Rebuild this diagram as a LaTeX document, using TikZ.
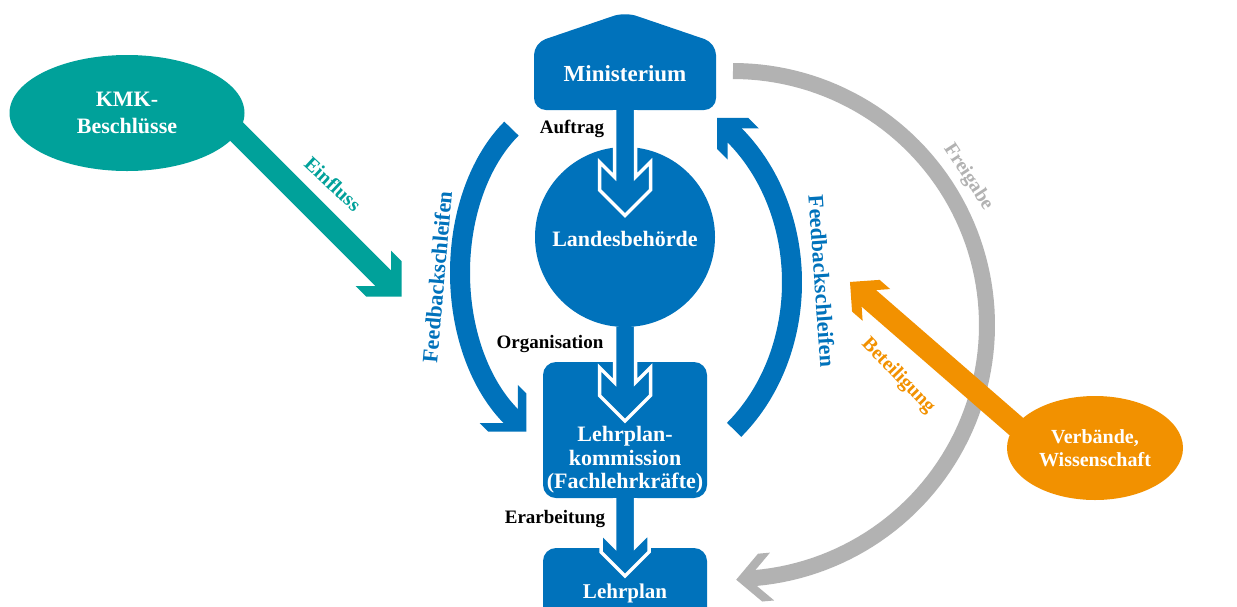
\documentclass[tikz,border=0pt]{standalone}
\usepackage{fontspec}
\setmainfont{Liberation Serif}
\usetikzlibrary{shapes.geometric}
\definecolor{mblue}{RGB}{0,114,187}
\definecolor{kteal}{RGB}{0,161,154}
\definecolor{vorange}{RGB}{242,145,0}
\definecolor{fgray}{RGB}{178,178,178}
% chevron head: #1 Ex, #2 Ey (shaft end), #3 angle, #4 a, #5 c, #6 w, #7 colour
\newcommand{\chevhead}[7]{%
  \pgfmathsetmacro{\chUx}{cos(#3)}%
  \pgfmathsetmacro{\chUy}{sin(#3)}%
  \pgfmathsetmacro{\chD}{(#5)+(#6)/2-1}%
  \pgfmathsetmacro{\chTx}{(#1)+(\chD)*(\chUx)}%
  \pgfmathsetmacro{\chTy}{(#2)+(\chD)*(\chUy)}%
  \pgfmathsetmacro{\chAx}{(\chTx)-(#4)*(\chUx)-(#4)*(\chUy)}%
  \pgfmathsetmacro{\chAy}{(\chTy)-(#4)*(\chUy)+(#4)*(\chUx)}%
  \pgfmathsetmacro{\chBx}{(\chAx)-(#5)*(\chUx)}%
  \pgfmathsetmacro{\chBy}{(\chAy)-(#5)*(\chUy)}%
  \pgfmathsetmacro{\chCx}{(\chTx)-((#5)+(#6)/2)*(\chUx)-((#6)/2)*(\chUy)}%
  \pgfmathsetmacro{\chCy}{(\chTy)-((#5)+(#6)/2)*(\chUy)+((#6)/2)*(\chUx)}%
  \pgfmathsetmacro{\chPx}{(\chTx)-(#4)*(\chUx)+(#4)*(\chUy)}%
  \pgfmathsetmacro{\chPy}{(\chTy)-(#4)*(\chUy)-(#4)*(\chUx)}%
  \pgfmathsetmacro{\chQx}{(\chPx)-(#5)*(\chUx)}%
  \pgfmathsetmacro{\chQy}{(\chPy)-(#5)*(\chUy)}%
  \pgfmathsetmacro{\chRx}{(\chTx)-((#5)+(#6)/2)*(\chUx)+((#6)/2)*(\chUy)}%
  \pgfmathsetmacro{\chRy}{(\chTy)-((#5)+(#6)/2)*(\chUy)-((#6)/2)*(\chUx)}%
  \fill[#7] (\chCx,\chCy) -- (\chBx,\chBy) -- (\chAx,\chAy) -- (\chTx,\chTy)
     -- (\chPx,\chPy) -- (\chQx,\chQy) -- (\chRx,\chRy) -- cycle;%
}
% central arrow with white outline: #1 x, #2 start y, #3 tip y, #4 a, #5 c, #6 w
\newcommand{\centralarrow}[6]{%
  \path[fill=mblue, draw=white, line width=3.5pt, line join=miter]
    ({#1-#6/2},{#2}) -- ({#1-#6/2},{#3-#5-#6/2}) -- ({#1-#4},{#3-#4-#5})
    -- ({#1-#4},{#3-#4}) -- ({#1},{#3}) -- ({#1+#4},{#3-#4})
    -- ({#1+#4},{#3-#4-#5}) -- ({#1+#6/2},{#3-#5-#6/2}) -- ({#1+#6/2},{#2});%
}
\tikzset{
  boxtxt/.style={font=\bfseries\fontsize{22}{23.5}\selectfont, text=white, align=center, inner sep=0},
  lbl/.style={font=\bfseries\fontsize{19}{21}\selectfont, text=black, inner sep=0, anchor=base},
  rlbl/.style={font=\bfseries\fontsize{20}{22}\selectfont, inner sep=0},
  bluebox/.style={fill=mblue, rounded corners=13pt, inner sep=0, minimum width=164pt},
}
\begin{document}
\begin{tikzpicture}[x=1pt,y=-1pt]
\clip (0,0) rectangle (1237,606);
\fill[white] (0,0) rectangle (1237,606);

% Freigabe (grey) arc
\draw[fgray, line width=16pt] plot[domain=-90:85, samples=90] ({733+254*cos(\x)},{325+254*sin(\x)});
\chevhead{733+254*cos(85)}{325+254*sin(85)}{175}{24}{12}{16}{fgray}
\node[rlbl, text=fgray, rotate=-57] (frei) at (968,177) {Freigabe};

% KMK (teal)
\coordinate (tS) at (200,95);
\coordinate (tE) at (384,279);
\draw[kteal, line width=22pt] (tS) -- (tE);
\chevhead{384}{279}{45}{25}{15}{22}{kteal}
\node[ellipse, fill=kteal, minimum width=235pt, minimum height=116pt, inner sep=0,
      font=\bfseries\fontsize{22}{27}\selectfont, text=white, align=center] (kmk) at (127,113) {KMK-\\Beschlüsse};
\node[rlbl, text=kteal, rotate=-43] (einfl) at (333,184) {Einfluss};

% Verbände (orange)
\coordinate (oS) at (1023.6,432.9);
\coordinate (oE) at (868.1,297.7);
\draw[vorange, line width=22pt] (oS) -- (oE);
\chevhead{868.1}{297.7}{221}{21}{14}{22}{vorange}
\node[ellipse, fill=vorange, minimum width=176pt, minimum height=104pt, inner sep=0,
      font=\bfseries\fontsize{20}{22.5}\selectfont, text=white, align=center] (verb) at (1095,448) {Verbände,\\Wissenschaft};
\node[rlbl, text=vorange, rotate=-46] (beteil) at (898,376) {Beteiligung};

% Feedback arcs (blue)
\draw[mblue, line width=20pt] plot[domain=236.2:123.8, samples=80] ({576+116*cos(\x)},{272.7+173.4*sin(\x)});
\chevhead{576+116*cos(123.8)}{272.7+173.4*sin(123.8)}{45}{27}{12}{20}{mblue}
\draw[mblue, line width=20pt] plot[domain=49.7:-49.7, samples=80] ({628.1+163.9*cos(\x)},{282.3+193.4*sin(\x)});
\chevhead{628.1+163.9*cos(-49.7)}{282.3+193.4*sin(-49.7)}{-135}{22}{15}{20}{mblue}
\node[rlbl, font=\bfseries\fontsize{22}{24}\selectfont, text=mblue, rotate=85] (fbl) at (437,277) {Feedbackschleifen};
\node[rlbl, font=\bfseries\fontsize{22}{24}\selectfont, text=mblue, rotate=-86] (fbr) at (822,281) {Feedbackschleifen};

% Ministerium
\fill[mblue, rounded corners=12pt] (625,12) -- (716,43) -- (716,110) -- (534,110) -- (534,43) -- cycle;
\node[boxtxt, font=\bfseries\fontsize{23}{25}\selectfont, anchor=base] (min) at (625,81) {Ministerium};

% Landesbehörde
\node[circle, fill=mblue, minimum size=180pt, inner sep=0] (land) at (625,237) {};

% Lehrplankommission
\node[bluebox, minimum height=136pt] (kom) at (625,430) {};

% Lehrplan
\node[bluebox, minimum height=90pt] (lp) at (625,593) {};

% central arrows
\centralarrow{625}{110}{215.5}{25.5}{28}{21}
\centralarrow{625}{326.5}{421}{25.5}{28}{21}
\centralarrow{625}{498}{576}{24}{19}{21}

% texts
\node[boxtxt, anchor=base] (landt) at (625,246) {Landesbehörde};
\node[boxtxt] (komt) at (625,460) {Lehrplan-\\kommission\\(Fachlehrkräfte)};
\node[boxtxt, font=\bfseries\fontsize{21}{23}\selectfont, anchor=base] (lpt) at (625,598) {Lehrplan};

\node[lbl] (auftrag) at (572,133) {Auftrag};
\node[lbl] (orga) at (550,348) {Organisation};
\node[lbl] (erarb) at (555,523) {Erarbeitung};
\end{tikzpicture}
\end{document}
